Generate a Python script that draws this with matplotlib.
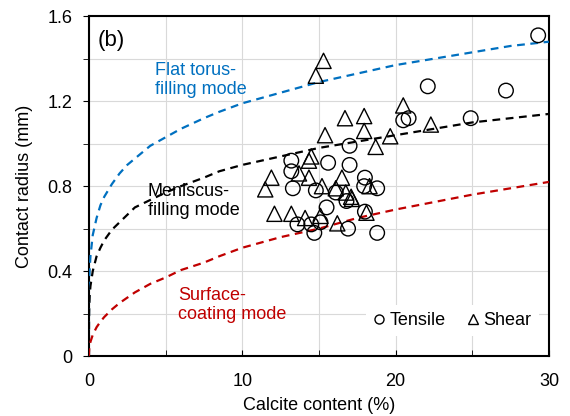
import matplotlib
matplotlib.use('Agg')
import matplotlib.pyplot as plt
from matplotlib.lines import Line2D
import numpy as np

plt.rcParams['font.family'] = ['Liberation Sans', 'DejaVu Sans']

# model curves
curve_x = [0, 0.005, 0.02, 0.05, 0.1, 0.25, 0.5, 0.75, 1, 1.5, 2, 2.5, 3, 4, 5, 6, 7.5,
           8.5, 10, 12.5, 15, 17.5, 20, 22.5, 25, 27.5, 30]
torus_y = [0, 0.26, 0.34, 0.41, 0.47, 0.57, 0.65, 0.71, 0.75, 0.81, 0.86, 0.90, 0.93, 0.99,
           1.03, 1.07, 1.12, 1.15, 1.19, 1.24, 1.29, 1.33, 1.37, 1.40, 1.43, 1.46, 1.48]
meniscus_y = [0, 0.17, 0.23, 0.285, 0.33, 0.40, 0.47, 0.51, 0.545, 0.595, 0.63, 0.665, 0.70,
              0.735, 0.77, 0.80, 0.84, 0.87, 0.90, 0.94, 0.98, 1.01, 1.04, 1.07, 1.10, 1.12, 1.14]
coating_y = [0, 0.018, 0.033, 0.049, 0.067, 0.10, 0.136, 0.162, 0.184, 0.22, 0.25, 0.275, 0.30,
             0.34, 0.37, 0.405, 0.44, 0.47, 0.51, 0.56, 0.60, 0.65, 0.69, 0.725, 0.76, 0.79, 0.82]

# measured contact radius
tensile_x = [29.3, 22.1, 27.2, 24.9, 20.5, 20.85, 17.0, 13.2, 15.6, 17.0, 13.2, 18.0, 13.3,
             14.8, 16.1, 16.8, 17.95, 18.8, 15.5, 18.0, 13.6, 14.5, 15.1, 14.7, 16.9, 18.8]
tensile_y = [1.51, 1.27, 1.25, 1.12, 1.11, 1.12, 0.99, 0.92, 0.91, 0.90, 0.87, 0.84, 0.79,
             0.78, 0.77, 0.73, 0.80, 0.79, 0.70, 0.68, 0.62, 0.62, 0.63, 0.58, 0.60, 0.58]
shear_x = [15.3, 14.8, 20.5, 16.7, 17.95, 22.3, 17.95, 15.4, 19.65, 18.7, 14.5, 14.35, 11.9,
           11.5, 13.7, 14.35, 16.5, 15.2, 16.1, 16.75, 17.1, 17.15, 18.3, 12.1, 13.2, 14.1,
           15.1, 16.2, 18.1]
shear_y = [1.39, 1.32, 1.18, 1.12, 1.13, 1.09, 1.06, 1.04, 1.035, 0.985, 0.94, 0.92, 0.84,
           0.785, 0.86, 0.84, 0.84, 0.80, 0.79, 0.77, 0.75, 0.74, 0.80, 0.67, 0.67, 0.65,
           0.66, 0.625, 0.675]

blue = '#0070C0'
red = '#C00000'

fig = plt.figure(figsize=(5.7, 4.16), dpi=100)
ax = fig.add_axes([0.156, 0.144, 0.807, 0.817])

dash = (3.5, 2.5)
ax.plot(curve_x, torus_y, color=blue, lw=1.6, dashes=dash, zorder=3)
ax.plot(curve_x, meniscus_y, color='black', lw=1.6, dashes=dash, zorder=3)
ax.plot(curve_x, coating_y, color=red, lw=1.6, dashes=dash, zorder=3)

ax.scatter(tensile_x, tensile_y, s=110, marker='o', facecolors='none',
           edgecolors='black', linewidths=1.0, zorder=4)
ax.scatter(shear_x, shear_y, s=120, marker='^', facecolors='none',
           edgecolors='black', linewidths=1.0, zorder=4)

ax.set_xlim(0, 30)
ax.set_ylim(0, 1.6)
ax.set_xticks([0, 10, 20, 30])
ax.set_xticks([5, 15, 25], minor=True)
ax.set_yticks([0, 0.4, 0.8, 1.2, 1.6])
ax.set_yticklabels(['0', '0.4', '0.8', '1.2', '1.6'])
ax.set_yticks([0.2, 0.6, 1.0, 1.4], minor=True)
ax.tick_params(axis='x', which='both', direction='in', length=4, labelsize=13, pad=12)
ax.tick_params(axis='y', which='both', direction='out', length=4, labelsize=13, pad=8)
ax.grid(True, which='both', color='#d9d9d9', lw=0.8)
ax.set_axisbelow(True)
for s in ax.spines.values():
    s.set_linewidth(1.5)

ax.set_xlabel('Calcite content (%)', fontsize=13, labelpad=5)
ax.set_ylabel('Contact radius (mm)', fontsize=13, labelpad=10)

ax.text(0.6, 1.487, '(b)', fontsize=16, va='center', ha='left')
ax.text(4.3, 1.30, 'Flat torus-\nfilling mode', color=blue, fontsize=13, va='center', ha='left')
ax.text(3.85, 0.73, 'Meniscus-\nfilling mode', color='black', fontsize=13, va='center', ha='left', zorder=5)
ax.text(5.8, 0.24, 'Surface-\ncoating mode', color=red, fontsize=13, va='center', ha='left')

handles = [Line2D([], [], ls='none', marker='o', mfc='none', mec='black', ms=6.5, mew=1),
           Line2D([], [], ls='none', marker='^', mfc='none', mec='black', ms=6.5, mew=1)]
leg = ax.legend(handles, ['Tensile', 'Shear'], ncol=2, loc='center',
                bbox_to_anchor=(0.79, 0.105), fontsize=13, frameon=True,
                fancybox=False, framealpha=1, edgecolor='none',
                handlelength=0.6, handletextpad=0.3, columnspacing=1.2)

fig.savefig('out.png', dpi=100)
